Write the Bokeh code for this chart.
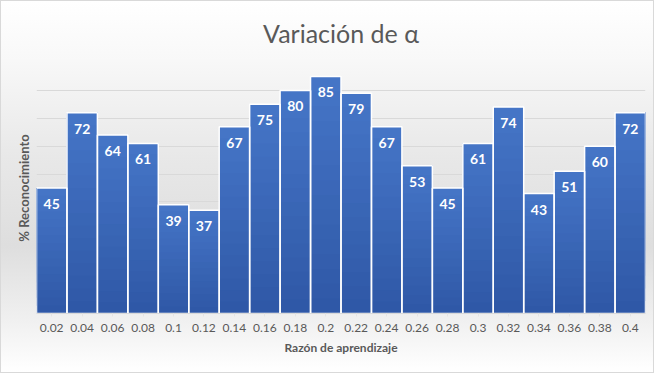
from bokeh.plotting import figure
from bokeh.models import FixedTicker, Range1d, FactorRange, ColumnDataSource
from bokeh.core.properties import value
from bokeh.embed import file_html
from bokeh.resources import INLINE

title_text = "Variación de α"
categories = ["0.02", "0.04", "0.06", "0.08", "0.1", "0.12", "0.14", "0.16", "0.18", "0.2",
              "0.22", "0.24", "0.26", "0.28", "0.3", "0.32", "0.34", "0.36", "0.38", "0.4"]
recognition = [45, 72, 64, 61, 39, 37, 67, 75, 80, 85, 79, 67, 53, 45, 61, 74, 43, 51, 60, 72]
grid_values = [10, 20, 30, 40, 50, 60, 70, 80, 90]
y_max = 90

TEXT = "#595959"
FONT = "Lato"

p = figure(width=654, height=373, x_range=FactorRange(factors=categories, range_padding=0),
           y_range=Range1d(0, y_max), output_backend="svg", toolbar_location=None,
           min_border_left=35, min_border_right=10, min_border_top=61, min_border_bottom=61,
           title=title_text)
p.styles = {"background": "linear-gradient(to bottom, #ffffff 0%, #f8f8f8 16%, #e8e8e8 42%, #dedede 66%, #f0f0f0 86%, #ffffff 100%)",
            "border": "1px solid #d9d9d9", "box-sizing": "border-box"}
p.border_fill_alpha = 0
p.background_fill_alpha = 0
p.outline_line_color = None

p.title.align = "center"
p.title.text_font = FONT
p.title.text_font_size = "25px"
p.title.text_font_style = "normal"
p.title.text_color = TEXT
p.title.standoff = 29

# gradient bars: overlapping slices of each bar's own height (no seams)
N = 16
top_rgb = (70, 118, 200)
bot_rgb = (47, 88, 166)
xs, bots, tops, cols = [], [], [], []
for i in range(N):
    f = (i + 0.5) / N
    r = int(bot_rgb[0] + (top_rgb[0] - bot_rgb[0]) * f)
    g = int(bot_rgb[1] + (top_rgb[1] - bot_rgb[1]) * f)
    b = int(bot_rgb[2] + (top_rgb[2] - bot_rgb[2]) * f)
    for cat, v in zip(categories, recognition):
        xs.append(cat)
        bots.append(v * i / N)
        tops.append(v)
        cols.append("#%02x%02x%02x" % (r, g, b))
p.vbar(x=xs, bottom=bots, top=tops, width=1.0, fill_color=cols, line_color=None)
p.vbar(x=categories, top=recognition, width=1.0, fill_alpha=0, line_color="white", line_width=1.5)

src = ColumnDataSource(dict(x=categories, y=recognition, t=[str(v) for v in recognition]))
p.text(x="x", y="y", text="t", source=src, text_align="center", text_baseline="middle",
       y_offset=16, text_color="white", text_font=value(FONT), text_font_style="bold",
       text_font_size="14px")

p.ygrid.ticker = FixedTicker(ticks=grid_values)
p.ygrid.grid_line_color = "#d9d9d9"
p.ygrid.grid_line_width = 1
p.xgrid.grid_line_color = None

p.yaxis.ticker = FixedTicker(ticks=[])
p.yaxis.axis_line_color = None
p.yaxis.major_tick_line_color = None
p.yaxis.minor_tick_line_color = None
p.yaxis.axis_label = "% Reconocimiento"
p.yaxis.axis_label_text_font = FONT
p.yaxis.axis_label_text_font_style = "bold"
p.yaxis.axis_label_text_font_size = "13px"
p.yaxis.axis_label_text_color = TEXT
p.yaxis.axis_label_standoff = 5

p.xaxis.axis_line_color = "#d9d9d9"
p.xaxis.major_tick_line_color = "#e4e4e4"
p.xaxis.major_tick_out = 3
p.xaxis.major_tick_in = 0
p.xaxis.major_label_text_font = FONT
p.xaxis.major_label_text_font_size = "12px"
p.xaxis.major_label_text_color = TEXT
p.xaxis.major_label_standoff = 7
p.xaxis.axis_label = "Razón de aprendizaje"
p.xaxis.axis_label_text_font = FONT
p.xaxis.axis_label_text_font_style = "bold"
p.xaxis.axis_label_text_font_size = "12px"
p.xaxis.axis_label_text_color = TEXT
p.xaxis.axis_label_standoff = 5

open("out.html", "w").write(file_html(p, INLINE))
